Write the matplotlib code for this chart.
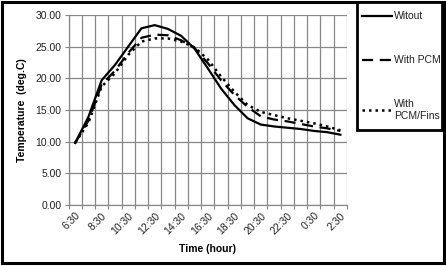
import matplotlib
matplotlib.use("Agg")
import matplotlib.pyplot as plt
from matplotlib.patches import Rectangle
from matplotlib.lines import Line2D

times = ["6:30", "7:30", "8:30", "9:30", "10:30", "11:30", "12:30", "13:30", "14:30",
         "15:30", "16:30", "17:30", "18:30", "19:30", "20:30", "21:30", "22:30",
         "23:30", "0:30", "1:30", "2:30"]
witout = [9.8, 13.9, 19.7, 22.1, 25.0, 27.9, 28.4, 27.8, 26.7, 24.7, 21.6, 18.4,
          15.8, 13.7, 12.7, 12.4, 12.2, 12.0, 11.7, 11.5, 11.1]
with_pcm = [9.8, 13.3, 19.0, 21.2, 24.0, 26.4, 26.9, 26.8, 26.0, 24.8, 22.4, 19.7,
            17.4, 15.5, 14.0, 13.5, 13.2, 12.8, 12.4, 12.1, 11.7]
with_fins = [9.8, 13.0, 18.7, 20.8, 23.7, 25.8, 26.3, 26.3, 25.8, 24.9, 23.0, 20.3,
             17.9, 15.8, 14.7, 14.2, 13.7, 13.3, 12.9, 12.4, 11.8]
yticks = [0, 5, 10, 15, 20, 25, 30]
series_names = ["Witout", "With PCM", "With\nPCM/Fins"]

W, H = 446, 266
fig = plt.figure(figsize=(W / 100, H / 100), dpi=100)
plt.rcParams['font.family'] = ['Liberation Sans', 'DejaVu Sans']

ax = fig.add_axes([68.5 / W, 1 - 205 / H, (347 - 68.5) / W, (205 - 15) / H])
x = list(range(len(times)))
styles = [dict(ls='-', lw=1.6),
          dict(ls=(0, (5, 3)), lw=1.6),
          dict(ls=(0, (1, 1.6)), lw=1.8)]
for vals, st in zip([witout, with_pcm, with_fins], styles):
    ax.plot(x, vals, color='black', **st)

ax.set_xlim(-0.5, len(times) - 0.5)
ax.set_ylim(0, 30)
ax.set_yticks(yticks)
ax.set_yticklabels([f"{v:.2f}" for v in yticks], fontsize=7.5, color='#222222')
ax.set_xticks([i - 0.5 for i in range(len(times) + 1)])
ax.set_xticklabels([])
ax.set_xticks(x[::2], minor=True)
ax.set_xticklabels(times[::2], minor=True, rotation=45, ha='right',
                   rotation_mode='anchor', fontsize=7.5, color='#222222')
ax.tick_params(axis='x', which='minor', length=0, pad=4)
ax.tick_params(axis='x', which='major', length=3, color='#888888', direction='out')
ax.tick_params(axis='y', length=3, color='#888888', direction='out', pad=2)
ax.grid(True, which='major', color='#888888', lw=0.9)
ax.set_axisbelow(True)
for s in ['top', 'right']:
    ax.spines[s].set_visible(False)
for s in ['left', 'bottom']:
    ax.spines[s].set_color('#888888')
    ax.spines[s].set_linewidth(0.9)

ax.set_ylabel("Temperature  (deg.C)", fontsize=7.5, fontweight='bold', labelpad=6)
ax.set_xlabel("Time (hour)", fontsize=7.5, fontweight='bold', labelpad=6)

# outer frame
fig.patches.append(Rectangle((2 / W, 3 / H), (W - 4) / W, (H - 5) / H,
                             transform=fig.transFigure, fill=False,
                             ec='black', lw=2.2))
# legend box
lx0, lx1, ly0, ly1 = 357, 442, 2, 130
fig.patches.append(Rectangle((lx0 / W, 1 - ly1 / H), (lx1 - lx0) / W, (ly1 - ly0) / H,
                             transform=fig.transFigure, fill=True, fc='white',
                             ec='black', lw=2.0))
ent_y = [16, 60, 110]
for name, st, yy in zip(series_names, styles, ent_y):
    fig.lines.append(Line2D([362 / W, 392 / W], [1 - yy / H, 1 - yy / H],
                            transform=fig.transFigure, color='black', **st))
    fig.text(394 / W, 1 - yy / H, name, fontsize=7.5, va='center', ha='left',
             color='#222222', linespacing=1.3)

fig.savefig("out.png", dpi=100)
